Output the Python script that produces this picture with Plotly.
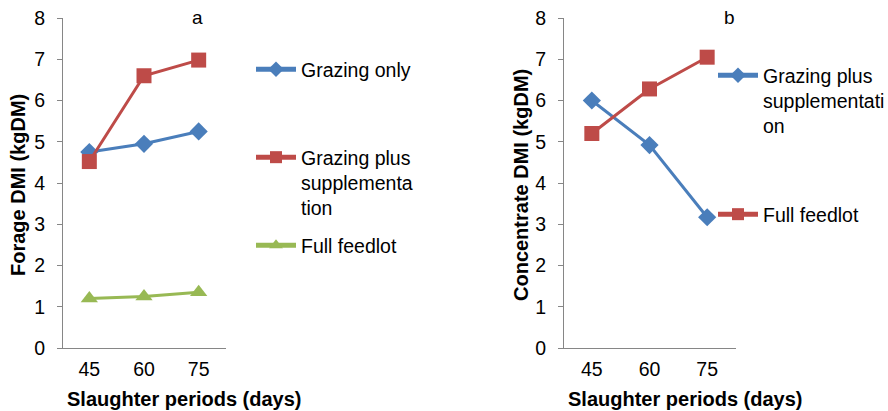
import plotly.graph_objects as go

periods = ["45", "60", "75"]
forage_grazing_only = [4.75, 4.95, 5.25]
forage_grazing_supp = [4.52, 6.60, 6.98]
forage_feedlot = [1.20, 1.25, 1.35]
conc_grazing_supp = [6.00, 4.92, 3.17]
conc_feedlot = [5.20, 6.28, 7.05]
y_ticks = [0, 1, 2, 3, 4, 5, 6, 7, 8]

BLUE = "#4A7EBB"
RED = "#BE4B48"
GREEN = "#98B954"
FONT = "Liberation Sans, Arial, sans-serif"

W, H = 888, 411

def px(x):
    return x / W

def py(y):
    return 1 - y / H

fig = go.Figure()

def add(x, y, name, color, symbol, size, xa, ya, legend):
    fig.add_trace(go.Scatter(
        x=x, y=y, name=name, mode="lines+markers",
        line=dict(color=color, width=3),
        marker=dict(color=color, symbol=symbol, size=size, line=dict(width=0)),
        xaxis=xa, yaxis=ya, legend=legend, showlegend=True,
    ))

add(periods, forage_grazing_only, "Grazing only", BLUE, "diamond", 14, "x", "y", "legend")
add(periods, forage_grazing_supp, "Grazing plus<br>supplementa<br>tion", RED, "square", 15, "x", "y", "legend2")
add(periods, forage_feedlot, "Full feedlot", GREEN, "triangle-up", 15, "x", "y", "legend3")
add(periods, conc_grazing_supp, "Grazing plus<br>supplementati<br>on", BLUE, "diamond", 14, "x2", "y2", "legend4")
add(periods, conc_feedlot, "Full feedlot", RED, "square", 15, "x2", "y2", "legend5")

TICK = 19.5
axis_common = dict(
    showline=True, linecolor="#868686", linewidth=1, showgrid=False, zeroline=False,
    tickfont=dict(family=FONT, size=TICK, color="#000000"), automargin=False,
)
ycommon = dict(axis_common, range=[0, 8], tickvals=y_ticks, ticks="outside", ticklen=5,
               tickcolor="#868686", ticklabelstandoff=8)

# category spacing in pixels, x-axis line starts 5px left of the y-axis
sp1 = (226 - 62) / 3
sp2 = (736 - 563) / 3
ydom = [py(348), py(18)]
fig.update_layout(
    width=W, height=H,
    margin=dict(l=0, r=0, t=0, b=0, autoexpand=False),
    paper_bgcolor="white", plot_bgcolor="white",
    font=dict(family=FONT, size=TICK, color="#000000"),
    xaxis=dict(axis_common, type="category", range=[-0.5 - 5 / sp1, 2.5], ticks="",
               ticklabelstandoff=4, domain=[px(57), px(226)], anchor="y"),
    yaxis=dict(ycommon, domain=ydom, anchor="free", position=px(62)),
    xaxis2=dict(axis_common, type="category", range=[-0.5 - 5 / sp2, 2.5], ticks="",
                ticklabelstandoff=4, domain=[px(558), px(736)], anchor="y2"),
    yaxis2=dict(ycommon, domain=ydom, anchor="free", position=px(563)),
)

def leg(x, y):
    return dict(x=px(x), y=py(y), xanchor="left", yanchor="top", xref="paper", yref="paper",
                bgcolor="rgba(0,0,0,0)", borderwidth=0, itemwidth=40, valign="top",
                font=dict(family=FONT, size=TICK, color="#000000"), tracegroupgap=0,
                itemclick=False, itemdoubleclick=False, itemsizing="constant")

fig.update_layout(
    legend=leg(251, 50),
    legend2=leg(251, 138),
    legend3=leg(251, 226),
    legend4=leg(713, 56),
    legend5=leg(713, 195),
)

title_font = dict(family=FONT, size=20, color="#000000")
annots = [
    dict(text="<b>Slaughter periods (days)</b>", x=px(184), y=py(399), font=title_font),
    dict(text="<b>Slaughter periods (days)</b>", x=px(685), y=py(399), font=title_font),
    dict(text="<b>Forage DMI (kgDM)</b>", x=px(18), y=py(185), textangle=-90, font=title_font),
    dict(text="<b>Concentrate DMI (kgDM)</b>", x=px(521), y=py(185), textangle=-90, font=title_font),
    dict(text="a", x=px(197), y=py(18), font=dict(family=FONT, size=19, color="#000000")),
    dict(text="b", x=px(729), y=py(18), font=dict(family=FONT, size=19, color="#000000")),
]
for a in annots:
    fig.add_annotation(xref="paper", yref="paper", showarrow=False, xanchor="center",
                       yanchor="middle", **a)

fig.write_html("out.html", config={"displayModeBar": False},
               post_script="document.body.style.margin='0';document.body.style.overflow='hidden';")
